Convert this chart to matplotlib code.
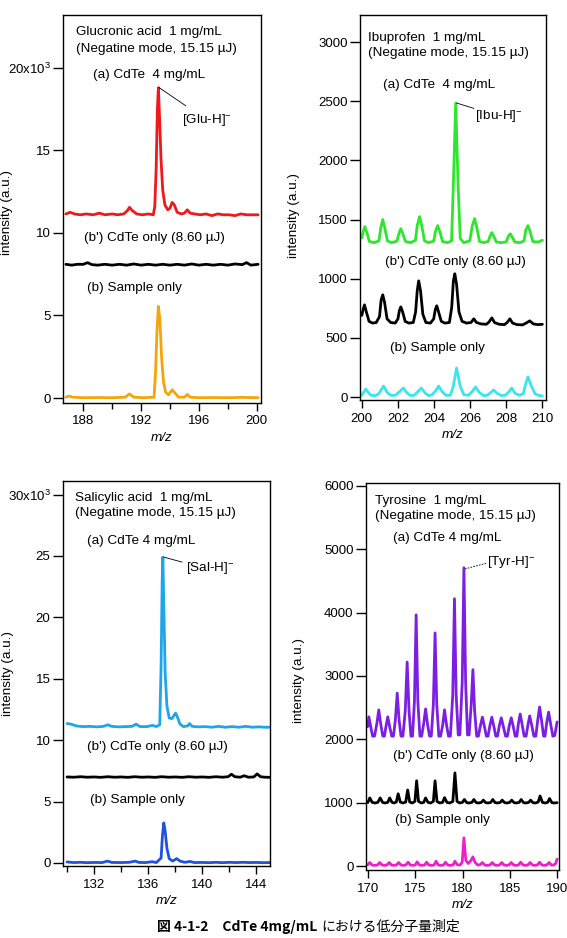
import numpy as np
import matplotlib
matplotlib.use("Agg")
import matplotlib.pyplot as plt
from matplotlib.ticker import FixedLocator, FixedFormatter

plt.rcParams['font.family'] = ['Liberation Sans', 'DejaVu Sans']
plt.rcParams['mathtext.fontset'] = 'custom'
plt.rcParams['mathtext.rm'] = 'Liberation Sans'
plt.rcParams['mathtext.it'] = 'Liberation Sans:italic'

# ---------------- DATA ----------------
# Glucronic acid (intensity in x10^3)
glu_a = [(186.8, 11.15), (187.1, 11.25), (187.4, 11.15), (187.8, 11.1), (188.2, 11.15), (188.7, 11.1),
         (189.1, 11.2), (189.5, 11.1), (190.0, 11.15), (190.4, 11.1), (190.8, 11.15), (191.05, 11.35),
         (191.2, 11.55), (191.4, 11.35), (191.7, 11.15), (192.1, 11.1), (192.5, 11.15), (192.85, 11.1),
         (192.95, 11.6), (193.05, 14.0), (193.13, 17.5), (193.2, 18.8), (193.28, 17.0), (193.38, 14.5),
         (193.5, 12.6), (193.65, 11.7), (193.85, 11.4), (194.0, 11.5), (194.15, 11.85), (194.3, 11.7),
         (194.5, 11.25), (194.8, 11.15), (195.0, 11.2), (195.2, 11.4), (195.4, 11.2), (195.7, 11.15),
         (196.1, 11.1), (196.5, 11.15), (196.9, 11.05), (197.3, 11.15), (197.7, 11.1), (198.1, 11.1),
         (198.5, 11.05), (198.9, 11.15), (199.3, 11.1), (199.7, 11.1), (200.1, 11.1)]
glu_c = [(186.8, 8.1), (187.2, 8.05), (187.6, 8.1), (188.0, 8.1), (188.3, 8.2), (188.6, 8.08), (189.0, 8.05),
         (189.5, 8.1), (190.0, 8.05), (190.5, 8.1), (191.0, 8.05), (191.5, 8.12), (192.0, 8.05), (192.5, 8.1),
         (193.0, 8.05), (193.5, 8.1), (194.0, 8.05), (194.5, 8.1), (195.0, 8.05), (195.5, 8.12), (196.0, 8.05),
         (196.5, 8.1), (197.0, 8.05), (197.5, 8.1), (198.0, 8.05), (198.5, 8.12), (199.0, 8.08), (199.3, 8.2),
         (199.6, 8.05), (200.1, 8.1)]
glu_b = [(186.8, 0.05), (187.0, 0.12), (187.3, 0.05), (188.0, 0.02), (189.0, 0.03), (190.0, 0.02),
         (190.9, 0.05), (191.2, 0.25), (191.5, 0.05), (192.2, 0.02), (192.9, 0.05), (193.0, 1.5),
         (193.1, 4.0), (193.2, 5.55), (193.3, 4.8), (193.42, 2.5), (193.55, 1.0), (193.7, 0.35),
         (193.9, 0.2), (194.15, 0.5), (194.35, 0.3), (194.6, 0.05), (195.0, 0.05), (195.2, 0.22),
         (195.4, 0.05), (196.0, 0.02), (197.0, 0.03), (198.0, 0.02), (199.0, 0.04), (200.1, 0.02)]

# Ibuprofen
ibu_a = [(200.0, 1345), (200.08, 1400), (200.17, 1440), (200.28, 1390), (200.42, 1315), (200.7, 1305),
         (200.95, 1320), (201.05, 1430), (201.16, 1500), (201.27, 1430), (201.42, 1320), (201.65, 1305),
         (201.95, 1318), (202.05, 1380), (202.16, 1423), (202.27, 1380), (202.42, 1315), (202.7, 1305),
         (202.97, 1325), (203.07, 1450), (203.2, 1525), (203.32, 1450), (203.47, 1320), (203.7, 1305),
         (203.98, 1318), (204.08, 1400), (204.2, 1449), (204.32, 1400), (204.47, 1315), (204.75, 1305),
         (204.97, 1320), (205.07, 1800), (205.2, 2485), (205.33, 1800), (205.45, 1340), (205.65, 1305),
         (205.98, 1320), (206.12, 1450), (206.25, 1508), (206.37, 1430), (206.52, 1315), (206.75, 1305),
         (207.0, 1315), (207.1, 1360), (207.2, 1390), (207.32, 1355), (207.45, 1310), (207.75, 1305),
         (208.0, 1312), (208.1, 1355), (208.22, 1380), (208.34, 1350), (208.47, 1310), (208.75, 1305),
         (208.98, 1320), (209.08, 1410), (209.2, 1449), (209.32, 1400), (209.47, 1315), (209.75, 1310),
         (210.0, 1325)]
ibu_c = [(200.0, 690), (200.07, 740), (200.15, 779), (200.25, 720), (200.4, 640), (200.6, 625), (200.8, 630),
         (200.98, 680), (201.07, 820), (201.16, 864), (201.26, 800), (201.4, 660), (201.6, 630), (201.85, 625),
         (202.0, 660), (202.08, 730), (202.16, 762), (202.26, 720), (202.4, 640), (202.6, 625), (202.85, 630),
         (202.98, 720), (203.07, 900), (203.15, 982), (203.25, 900), (203.38, 700), (203.55, 630), (203.8, 625),
         (203.98, 660), (204.07, 740), (204.15, 771), (204.25, 720), (204.4, 640), (204.6, 625), (204.85, 630),
         (204.98, 760), (205.07, 980), (205.15, 1042), (205.25, 950), (205.38, 720), (205.55, 640), (205.8, 625),
         (206.05, 630), (206.2, 661), (206.35, 630), (206.6, 618), (206.9, 615), (207.05, 635), (207.2, 669),
         (207.35, 630), (207.6, 615), (207.9, 612), (208.05, 630), (208.2, 661), (208.35, 625), (208.6, 612),
         (208.9, 610), (209.1, 625), (209.3, 644), (209.5, 618), (209.75, 612), (210.0, 615)]
ibu_b = [(200.0, 15), (200.1, 40), (200.22, 68), (200.35, 40), (200.5, 15), (200.75, 12), (200.95, 30),
         (201.2, 93), (201.4, 40), (201.6, 15), (201.85, 15), (202.05, 40), (202.3, 76), (202.5, 35),
         (202.7, 12), (202.9, 15), (203.1, 45), (203.3, 76), (203.5, 35), (203.7, 12), (203.9, 20),
         (204.1, 55), (204.25, 93), (204.45, 45), (204.65, 15), (204.9, 15), (205.05, 80), (205.25, 245),
         (205.45, 90), (205.65, 20), (205.9, 15), (206.1, 45), (206.3, 85), (206.5, 40), (206.75, 12),
         (206.95, 15), (207.15, 40), (207.3, 60), (207.5, 30), (207.75, 12), (207.95, 15), (208.15, 45),
         (208.3, 76), (208.5, 30), (208.75, 15), (208.95, 30), (209.05, 100), (209.2, 170), (209.4, 90),
         (209.6, 25), (209.85, 12), (210.0, 10)]

# Salicylic acid (intensity in x10^3)
sal_a = [(130.0, 11.35), (130.3, 11.3), (130.7, 11.15), (131.2, 11.1), (131.7, 11.12), (132.2, 11.08),
         (132.7, 11.12), (133.0, 11.25), (133.3, 11.12), (133.8, 11.08), (134.3, 11.1), (134.8, 11.12),
         (135.1, 11.3), (135.4, 11.1), (135.9, 11.1), (136.3, 11.2), (136.6, 11.1), (136.85, 11.25),
         (136.95, 16.0), (137.03, 23.0), (137.08, 24.9), (137.15, 21.0), (137.25, 15.5), (137.38, 12.8),
         (137.55, 11.8), (137.75, 11.75), (137.9, 12.0), (138.02, 12.2), (138.15, 11.9), (138.35, 11.3),
         (138.6, 11.1), (138.9, 11.15), (139.05, 11.35), (139.25, 11.12), (139.7, 11.08), (140.2, 11.1),
         (140.7, 11.05), (141.2, 11.12), (141.7, 11.05), (142.2, 11.1), (142.7, 11.05), (143.2, 11.12),
         (143.7, 11.05), (144.2, 11.08), (144.6, 11.05), (145.0, 11.05)]
sal_c = [(130.0, 7.0), (130.5, 6.98), (131.0, 7.02), (131.5, 6.98), (132.0, 7.0), (132.5, 6.97), (133.0, 7.02),
         (133.5, 6.98), (134.0, 7.0), (134.5, 6.97), (135.0, 7.02), (135.5, 6.98), (136.0, 7.0), (136.5, 6.97),
         (137.0, 7.02), (137.5, 6.98), (138.0, 7.0), (138.5, 6.97), (139.0, 7.02), (139.5, 6.98), (140.0, 7.0),
         (140.5, 6.97), (141.0, 7.02), (141.5, 6.98), (141.9, 7.02), (142.15, 7.22), (142.4, 7.02),
         (142.8, 6.98), (143.1, 7.1), (143.4, 6.98), (143.8, 7.0), (144.05, 7.25), (144.3, 7.02),
         (144.6, 6.98), (145.0, 6.97)]
sal_b = [(130.0, 0.08), (130.5, 0.03), (131.0, 0.05), (131.5, 0.02), (132.0, 0.04), (132.6, 0.03),
         (133.0, 0.15), (133.3, 0.04), (134.0, 0.03), (134.6, 0.05), (135.05, 0.15), (135.3, 0.04),
         (135.8, 0.03), (136.3, 0.1), (136.6, 0.03), (136.95, 0.4), (137.05, 2.2), (137.15, 3.26),
         (137.25, 2.6), (137.38, 1.2), (137.55, 0.35), (137.8, 0.15), (138.1, 0.35), (138.35, 0.15),
         (138.7, 0.05), (139.1, 0.12), (139.4, 0.03), (140.0, 0.04), (140.5, 0.02), (141.0, 0.05),
         (141.5, 0.02), (142.0, 0.05), (142.5, 0.03), (143.0, 0.05), (143.5, 0.03), (144.0, 0.04),
         (144.5, 0.02), (145.0, 0.03)]

# Tyrosine
tyr_a = [(169.98, 2200), (170.1, 2355), (170.3, 2200), (170.5, 2050), (170.7, 2050),
         (170.95, 2250), (171.15, 2465), (171.38, 2220), (171.58, 2050), (171.75, 2050),
         (171.93, 2220), (172.1, 2355), (172.3, 2200), (172.52, 2050), (172.7, 2050),
         (172.9, 2300), (173.1, 2730), (173.3, 2300), (173.5, 2050), (173.7, 2050),
         (173.95, 2450), (174.15, 3220), (174.35, 2450), (174.55, 2050), (174.72, 2050),
         (174.92, 2600), (175.1, 3965), (175.28, 2600), (175.5, 2050), (175.68, 2050),
         (175.9, 2250), (176.1, 2480), (176.32, 2220), (176.52, 2050), (176.7, 2050),
         (176.92, 2550), (177.1, 3680), (177.28, 2550), (177.5, 2050), (177.68, 2050),
         (177.9, 2220), (178.1, 2465), (178.32, 2220), (178.52, 2050), (178.72, 2050),
         (178.97, 2700), (179.15, 4220), (179.33, 2700), (179.55, 2070), (179.72, 2070),
         (179.97, 2900), (180.15, 4710), (180.33, 2900), (180.53, 2070), (180.7, 2070),
         (180.92, 2550), (181.1, 3100), (181.28, 2450), (181.5, 2050), (181.68, 2050),
         (181.9, 2220), (182.1, 2350), (182.32, 2200), (182.52, 2050), (182.7, 2050),
         (182.9, 2220), (183.1, 2350), (183.32, 2200), (183.52, 2050), (183.7, 2050),
         (183.9, 2220), (184.1, 2340), (184.32, 2200), (184.55, 2050), (184.75, 2050),
         (184.95, 2220), (185.15, 2340), (185.37, 2200), (185.57, 2050), (185.75, 2050),
         (185.9, 2240), (186.1, 2400), (186.32, 2220), (186.52, 2050), (186.72, 2050),
         (186.92, 2230), (187.1, 2370), (187.32, 2220), (187.55, 2050), (187.75, 2050),
         (187.95, 2300), (188.15, 2510), (188.37, 2280), (188.57, 2050), (188.72, 2050),
         (188.9, 2260), (189.1, 2430), (189.32, 2240), (189.55, 2050), (189.75, 2060),
         (190.0, 2275)]
tyr_c = [(169.98, 1000), (170.2, 1075), (170.45, 1005), (170.75, 995), (171.05, 1005), (171.3, 1075),
         (171.55, 1005), (171.8, 995), (172.1, 1005), (172.3, 1075), (172.55, 1005), (172.75, 995),
         (173.0, 1010), (173.2, 1140), (173.42, 1010), (173.7, 995), (174.0, 1010), (174.2, 1200),
         (174.42, 1010), (174.7, 995), (174.97, 1020), (175.15, 1345), (175.35, 1020), (175.65, 995),
         (175.9, 1005), (176.1, 1075), (176.35, 1005), (176.65, 995), (176.92, 1020), (177.1, 1345),
         (177.3, 1020), (177.6, 995), (177.9, 1005), (178.1, 1080), (178.35, 1005), (178.65, 995),
         (178.98, 1020), (179.2, 1470), (179.42, 1020), (179.7, 995), (180.0, 1005), (180.2, 1050),
         (180.45, 1000), (180.7, 995), (181.0, 1005), (181.2, 1050), (181.45, 1000), (181.7, 995),
         (182.0, 1005), (182.2, 1040), (182.45, 1000), (182.7, 995), (183.0, 1005), (183.2, 1050),
         (183.45, 1000), (183.7, 995), (184.0, 1005), (184.2, 1040), (184.45, 1000), (184.7, 995),
         (185.0, 1005), (185.2, 1040), (185.45, 1000), (185.7, 995), (186.0, 1005), (186.2, 1050),
         (186.45, 1000), (186.7, 995), (187.0, 1005), (187.2, 1040), (187.45, 1000), (187.7, 995),
         (188.0, 1010), (188.2, 1105), (188.45, 1005), (188.75, 995), (189.0, 1005), (189.2, 1065),
         (189.45, 1000), (189.7, 995), (190.0, 1000)]
tyr_b = [(169.98, 20), (170.2, 55), (170.45, 15), (170.7, 10), (171.0, 15), (171.25, 55), (171.5, 15),
         (171.75, 10), (172.0, 15), (172.25, 55), (172.5, 15), (172.75, 10), (173.0, 15), (173.25, 55),
         (173.5, 15), (173.75, 10), (174.0, 15), (174.25, 60), (174.5, 15), (174.75, 10), (175.0, 15),
         (175.2, 65), (175.45, 15), (175.7, 10), (176.0, 15), (176.2, 60), (176.45, 15), (176.7, 10),
         (177.0, 15), (177.2, 75), (177.45, 15), (177.7, 10), (178.0, 15), (178.2, 60), (178.45, 15),
         (178.7, 10), (179.0, 15), (179.2, 75), (179.45, 20), (179.75, 15), (179.97, 60), (180.15, 445),
         (180.35, 90), (180.6, 40), (180.9, 90), (181.1, 145), (181.32, 60), (181.6, 15), (181.85, 20),
         (182.1, 55), (182.35, 15), (182.6, 10), (182.9, 15), (183.15, 55), (183.4, 15), (183.65, 10),
         (183.9, 15), (184.15, 55), (184.4, 15), (184.65, 10), (184.9, 15), (185.15, 55), (185.4, 15),
         (185.65, 10), (185.9, 15), (186.15, 60), (186.4, 15), (186.65, 10), (186.9, 15), (187.15, 55),
         (187.4, 15), (187.65, 10), (187.9, 15), (188.15, 60), (188.4, 15), (188.65, 10), (188.9, 15),
         (189.15, 55), (189.4, 15), (189.65, 15), (189.85, 40), (190.0, 110)]

# ticks
glu_yticks = [0, 5, 10, 15, 20]
glu_ylabels = ['0', '5', '10', '15', '20x10$^{3}$']
glu_xticks = [188, 192, 196, 200]
glu_xminor = [190, 194, 198]
ibu_yticks = [0, 500, 1000, 1500, 2000, 2500, 3000]
ibu_xticks = [200, 202, 204, 206, 208, 210]
sal_yticks = [0, 5, 10, 15, 20, 25, 30]
sal_ylabels = ['0', '5', '10', '15', '20', '25', '30x10$^{3}$']
sal_xticks = [132, 136, 140, 144]
sal_xminor = [130, 134, 138, 142]
tyr_yticks = [0, 1000, 2000, 3000, 4000, 5000, 6000]
tyr_xticks = [170, 175, 180, 185, 190]

# colors
c_red, c_orange = '#f01818', '#f5a50a'
c_green, c_cyan = '#2de62d', '#3ae6ee'
c_lblue, c_blue = '#1ea5ea', '#1f52de'
c_purple, c_magenta = '#7b1fe3', '#ec1fcc'

# ---------------- FIGURE ----------------
W, H = 567, 938
fig = plt.figure(figsize=(W / 100, H / 100), dpi=100)

def box(l, r, t, b):
    return [l / W, 1 - b / H, (r - l) / W, (b - t) / H]

FS = 9.7
axes_info = [
    dict(pos=box(63, 261, 15, 403), xlim=(186.6, 200.3), ylim=(-0.3, 23.2),
         series=[(glu_a, c_red), (glu_c, 'k'), (glu_b, c_orange)],
         yt=glu_yticks, yl=glu_ylabels, xt=glu_xticks, xm=glu_xminor,
         texts=[("Glucronic acid  1 mg/mL", 0.066, 0.956), ("(Negatine mode, 15.15 µJ)", 0.066, 0.912),
                ("(a) CdTe  4 mg/mL", 0.152, 0.845), ("[Glu-H]$^{-}$", 0.601, 0.729),
                ("(b') CdTe only (8.60 µJ)", 0.106, 0.425), ("(b) Sample only", 0.121, 0.296)],
         leader=((193.25, 195.1), (18.8, 17.7), '-'), ylab=(-0.25, 0.49)),
    dict(pos=box(360, 546, 15, 400), xlim=(199.9, 210.2), ylim=(-25, 3229),
         series=[(ibu_a, c_green), (ibu_c, 'k'), (ibu_b, c_cyan)],
         yt=ibu_yticks, yl=[str(v) for v in ibu_yticks], xt=ibu_xticks, xm=[],
         texts=[("Ibuprofen  1 mg/mL", 0.043, 0.940), ("(Negatine mode, 15.15 µJ)", 0.043, 0.901),
                ("(a) CdTe  4 mg/mL", 0.124, 0.818), ("[Ibu-H]$^{-}$", 0.618, 0.738),
                ("(b') CdTe only (8.60 µJ)", 0.134, 0.358), ("(b) Sample only", 0.161, 0.135)],
         leader=((205.25, 206.2), (2485, 2440), '-'), ylab=(-0.323, 0.48)),
    dict(pos=box(63, 270, 481, 866), xlim=(129.7, 145.0), ylim=(-0.25, 31.1),
         series=[(sal_a, c_lblue), (sal_c, 'k'), (sal_b, c_blue)],
         yt=sal_yticks, yl=sal_ylabels, xt=sal_xticks, xm=sal_xminor,
         texts=[("Salicylic acid  1 mg/mL", 0.058, 0.956), ("(Negatine mode, 15.15 µJ)", 0.058, 0.917),
                ("(a) CdTe 4 mg/mL", 0.116, 0.844), ("[Sal-H]$^{-}$", 0.594, 0.774),
                ("(b') CdTe only (8.60 µJ)", 0.116, 0.309), ("(b) Sample only", 0.130, 0.171)],
         leader=((137.15, 138.5), (24.9, 24.5), '-'), ylab=(-0.235, 0.5)),
    dict(pos=box(366, 559, 483, 870), xlim=(169.8, 190.2), ylim=(-63, 6047),
         series=[(tyr_a, c_purple), (tyr_c, 'k'), (tyr_b, c_magenta)],
         yt=tyr_yticks, yl=[str(v) for v in tyr_yticks], xt=tyr_xticks, xm=[],
         texts=[("Tyrosine  1 mg/mL", 0.047, 0.953), ("(Negatine mode, 15.15 µJ)", 0.047, 0.915),
                ("(a) CdTe 4 mg/mL", 0.140, 0.858), ("[Tyr-H]$^{-}$", 0.627, 0.796),
                ("(b') CdTe only (8.60 µJ)", 0.140, 0.295), ("(b) Sample only", 0.150, 0.129)],
         leader=((180.25, 182.5), (4690, 4780), (0, (2, 1.5))), ylab=(-0.316, 0.49)),
]

for info in axes_info:
    ax = fig.add_axes(info['pos'])
    mult = 1000 if info['yl'][-1].endswith('$') else 1
    for data, col in info['series']:
        xs = [p[0] for p in data]
        ys = [p[1] * mult for p in data]
        ax.plot(xs, ys, color=col, lw=2.0, solid_joinstyle='round', solid_capstyle='round')
    ax.set_xlim(*info['xlim'])
    ax.set_ylim(info['ylim'][0] * mult, info['ylim'][1] * mult)
    ax.yaxis.set_major_locator(FixedLocator([v * mult for v in info['yt']]))
    ax.yaxis.set_major_formatter(FixedFormatter(info['yl']))
    ax.xaxis.set_major_locator(FixedLocator(info['xt']))
    ax.xaxis.set_major_formatter(FixedFormatter([str(v) for v in info['xt']]))
    if info['xm']:
        ax.xaxis.set_minor_locator(FixedLocator(info['xm']))
    ax.tick_params(axis='y', direction='out', length=7, width=1, labelsize=9.5, pad=2)
    ax.tick_params(axis='x', direction='out', length=6, width=1, labelsize=9.5, pad=3)
    ax.tick_params(axis='x', which='minor', direction='out', length=4, width=1)
    for s in ax.spines.values():
        s.set_linewidth(1.0)
    for t, fx, fy in info['texts']:
        ax.text(fx, fy, t, transform=ax.transAxes, fontsize=FS, ha='left', va='center')
    (lx, ly, ls) = info['leader']
    ax.plot(lx, [v * mult for v in ly], color='k', lw=0.6, linestyle=ls)
    ax.set_xlabel('m/z', fontsize=9.7, fontstyle='italic', labelpad=3)
    ax.set_ylabel('intensity (a.u.)', fontsize=9.7)
    ax.yaxis.set_label_coords(*info['ylab'])

fig.text(320 / W, 1 - 927 / H, "図 4-1-2　CdTe 4mg/mL ", ha='right', va='center',
         fontsize=10, fontweight='bold', family=['Noto Sans CJK JP', 'DejaVu Sans'])
fig.text(321 / W, 1 - 927 / H, "における低分子量測定", ha='left', va='center',
         fontsize=10, family=['Noto Sans CJK JP', 'DejaVu Sans'])

fig.savefig('out.png', dpi=100)
